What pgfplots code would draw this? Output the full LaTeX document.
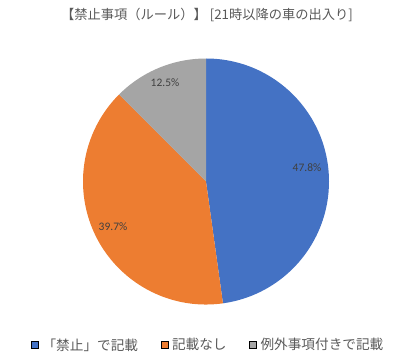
\documentclass[border=0pt]{standalone}
\usepackage{fontspec}
\setmainfont{Carlito}
\newfontfamily\jp{Noto Sans CJK JP}
\usepackage{pgfplots}
\pgfplotsset{compat=1.18}
\usepackage{pgfplotstable}
\definecolor{cblue}{HTML}{4472C4}
\definecolor{corange}{HTML}{ED7D31}
\definecolor{cgray}{HTML}{A5A5A5}
\definecolor{ctext}{HTML}{595959}
\definecolor{clab}{HTML}{404040}

\pgfplotstableread{
val
47.8
39.7
12.5
}\piedata

\begin{document}
\begin{tikzpicture}
\pgfplotstablegetelem{0}{val}\of\piedata \let\vA\pgfplotsretval
\pgfplotstablegetelem{1}{val}\of\piedata \let\vB\pgfplotsretval
\pgfplotstablegetelem{2}{val}\of\piedata \let\vC\pgfplotsretval
\pgfmathsetmacro\aA{90-3.6*\vA}
\pgfmathsetmacro\aB{\aA-3.6*\vB}
\pgfmathsetmacro\aC{\aB-3.6*\vC}
\begin{axis}[
  x=1bp, y=1bp, xmin=0, xmax=413, ymin=0, ymax=363,
  hide axis, clip=false,
  legend columns=3,
  legend style={at={(axis cs:31,18)}, anchor=west, draw=none, fill=none,
    font=\jp\fontsize{13.7}{15}\selectfont, text=ctext,
    nodes={inner sep=0pt},
    /tikz/every odd column/.append style={column sep=4bp},
    /tikz/every even column/.append style={column sep=22.5bp},
    inner sep=0pt},
  legend image code/.code={\fill[#1] (0bp,-3.5bp) rectangle (7bp,3.5bp);},
]
\path (axis cs:0,0) rectangle (axis cs:413,363);
\addlegendimage{fill=cblue}
\addlegendentry{「禁止」で記載}
\addlegendimage{fill=corange}
\addlegendentry{記載なし}
\addlegendimage{fill=cgray}
\addlegendentry{例外事項付きで記載}

\fill[cblue] (axis cs:206,181.5) -- ++(90:123bp) arc[start angle=90, end angle=\aA, radius=123bp] -- cycle;
\fill[corange] (axis cs:206,181.5) -- ++(\aA:123bp) arc[start angle=\aA, end angle=\aB, radius=123bp] -- cycle;
\fill[cgray] (axis cs:206,181.5) -- ++(\aB:123bp) arc[start angle=\aB, end angle=\aC, radius=123bp] -- cycle;

\node[text=clab, font=\fontsize{11.5}{13}\selectfont] at (axis cs:307,195) {\vA\%};
\node[text=clab, font=\fontsize{11.5}{13}\selectfont] at (axis cs:113,136) {\vB\%};
\node[text=clab, font=\fontsize{11.5}{13}\selectfont] at (axis cs:165,280) {\vC\%};

\node[text=ctext, font=\jp\fontsize{13.3}{15}\selectfont] at (axis cs:207,348.5) {【禁止事項（ルール）】 [21時以降の車の出入り]};
\end{axis}
\end{tikzpicture}
\end{document}
